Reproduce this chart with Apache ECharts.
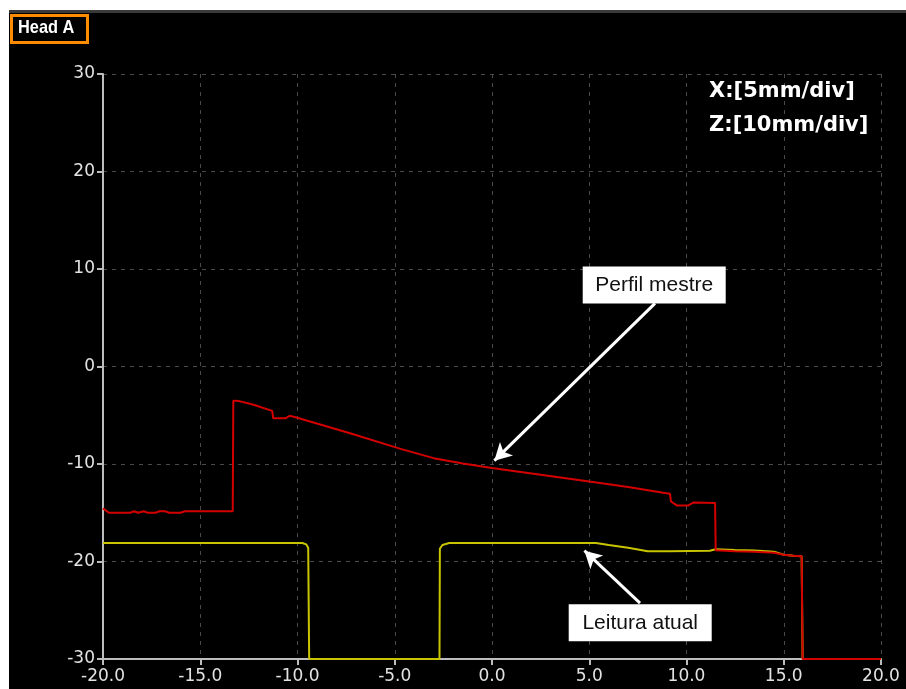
<!DOCTYPE html>
<html>
<head>
<meta charset="utf-8">
<script src="https://cdn.jsdelivr.net/npm/echarts@6/dist/echarts.min.js"></script>
<style>
  html, body { margin: 0; padding: 0; background: #ffffff; }
  #frame { position: absolute; left: 9px; top: 10px; width: 897px; height: 679px; background: #000; border-top: 3px solid #3a3a3a; box-sizing: border-box; }
  #chart { position: absolute; left: 0; top: 0; width: 906px; height: 689px; }
</style>
</head>
<body>
<div id="frame"></div>
<div id="chart"></div>
<script>
// Axis ticks (mm)
const xTicks = [-20, -15, -10, -5, 0, 5, 10, 15, 20];
const zTicks = [-30, -20, -10, 0, 10, 20, 30];

// Master profile trace [x, z]
const perfilMestre = [
  [-20, -14.55], [-19.7, -15.0], [-18.6, -15.0], [-18.4, -14.85], [-18.2, -15.0],
  [-17.9, -14.85], [-17.7, -15.0], [-17.3, -15.0], [-17.1, -14.85], [-16.8, -14.85],
  [-16.6, -15.0], [-16.0, -15.0], [-15.8, -14.85], [-15.5, -14.85], [-15.4, -15.05],
  [-15.2, -14.85], [-13.33, -14.85], [-13.3, -3.5], [-13.0, -3.55], [-12.3, -3.9],
  [-11.3, -4.55], [-11.25, -5.3], [-10.6, -5.3], [-10.4, -5.05], [-10.1, -5.2],
  [-7.3, -6.85], [-4.7, -8.45], [-3.0, -9.4], [-1.5, -9.95], [0, -10.4],
  [2.5, -11.1], [5, -11.8], [7, -12.35], [8.8, -12.95], [9.15, -13.05],
  [9.2, -13.85], [9.5, -14.25], [10.1, -14.25], [10.35, -13.95], [11.47, -14.0],
  [11.5, -18.85], [12.5, -18.95], [13.5, -19.0], [14.5, -19.1], [15.0, -19.3],
  [15.5, -19.4], [15.92, -19.45], [15.97, -30], [20, -30]
];

// Current reading trace [x, z]
const leituraAtual = [
  [-20, -18.1], [-9.75, -18.1], [-9.55, -18.25], [-9.45, -18.6], [-9.4, -30],
  [-2.7, -30], [-2.68, -18.7], [-2.55, -18.3], [-2.2, -18.1], [5.35, -18.1],
  [6, -18.3], [7, -18.6], [8, -18.95], [8.9, -18.95], [9.0, -18.75], [9.1, -18.95],
  [11.2, -18.9], [11.5, -18.75], [12.5, -18.82], [13.5, -18.88], [14.5, -19.0],
  [15.0, -19.3], [15.5, -19.4], [15.92, -19.45], [15.97, -30], [20, -30]
];

// Callouts: box centre and arrow start/tip in axis units
const perfilBox = [8.34, 8.36];
const perfilArrow = [[8.38, 6.48], [0.12, -9.66]];
const leituraBox = [7.62, -26.29];
const leituraArrow = [[7.61, -24.26], [4.75, -18.89]];

const chart = echarts.init(document.getElementById('chart'), null, { renderer: 'canvas' });

const tickFont = { color: '#e2e2e2', fontFamily: 'DejaVu Sans', fontSize: 17 };

function callout(boxCoord, arrow, text) {
  return {
    markLine: {
      silent: true,
      animation: false,
      symbol: ['none', 'arrow'],
      symbolSize: [14, 17],
      lineStyle: { color: '#ffffff', width: 3, type: 'solid' },
      label: { show: false },
      data: [[{ coord: arrow[0] }, { coord: arrow[1] }]]
    },
    markPoint: {
      silent: true,
      animation: false,
      symbol: 'rect',
      symbolSize: [143, 37],
      itemStyle: { color: '#ffffff' },
      label: {
        show: true, position: 'inside', formatter: text,
        color: '#111111', fontFamily: 'Arial, Liberation Sans', fontSize: 21
      },
      data: [{ coord: boxCoord }]
    }
  };
}

chart.setOption({
  backgroundColor: 'transparent',
  animation: false,
  grid: { left: 103, right: 25, top: 74, bottom: 30, containLabel: false },
  xAxis: {
    type: 'value', min: -20, max: 20, interval: 5,
    axisLine: { show: true, onZero: false, lineStyle: { color: '#bdbdbd', width: 2 } },
    axisTick: { show: true, length: 6, lineStyle: { color: '#bdbdbd', width: 2 } },
    axisLabel: Object.assign({ margin: 9, formatter: v => v.toFixed(1) }, tickFont),
    splitLine: { show: true, lineStyle: { color: '#4a4a4a', type: [4, 5], width: 1 } }
  },
  yAxis: {
    type: 'value', min: -30, max: 30, interval: 10,
    axisLine: { show: true, onZero: false, lineStyle: { color: '#bdbdbd', width: 2 } },
    axisTick: { show: true, length: 6, lineStyle: { color: '#bdbdbd', width: 2 } },
    axisLabel: Object.assign({ margin: 8 }, tickFont),
    splitLine: { show: true, lineStyle: { color: '#4a4a4a', type: [4, 5], width: 1 } }
  },
  graphic: [
    {
      type: 'rect', left: 10, top: 14, z: 10,
      shape: { width: 76, height: 27 },
      style: { fill: '#000000', stroke: '#ff8c00', lineWidth: 3 }
    },
    {
      type: 'text', x: 18, y: 18, z: 11, scaleX: 0.86, scaleY: 1,
      style: { text: 'Head A', fill: '#ffffff', font: 'bold 19px "Liberation Sans", Arial, sans-serif' }
    },
    {
      type: 'text', left: 709, top: 81, z: 11,
      style: { text: 'X:[5mm/div]', fill: '#ffffff', font: 'bold 21px "DejaVu Sans", sans-serif' }
    },
    {
      type: 'text', left: 709, top: 115, z: 11,
      style: { text: 'Z:[10mm/div]', fill: '#ffffff', font: 'bold 21px "DejaVu Sans", sans-serif' }
    }
  ],
  series: [
    Object.assign({
      name: 'Leitura atual', type: 'line', data: leituraAtual,
      showSymbol: false, clip: false, z: 3,
      lineStyle: { color: '#c8c400', width: 2 }
    }, callout(leituraBox, leituraArrow, 'Leitura atual')),
    Object.assign({
      name: 'Perfil mestre', type: 'line', data: perfilMestre,
      showSymbol: false, clip: false, z: 4,
      lineStyle: { color: '#d40000', width: 2 }
    }, callout(perfilBox, perfilArrow, 'Perfil mestre'))
  ]
});
</script>
</body>
</html>
